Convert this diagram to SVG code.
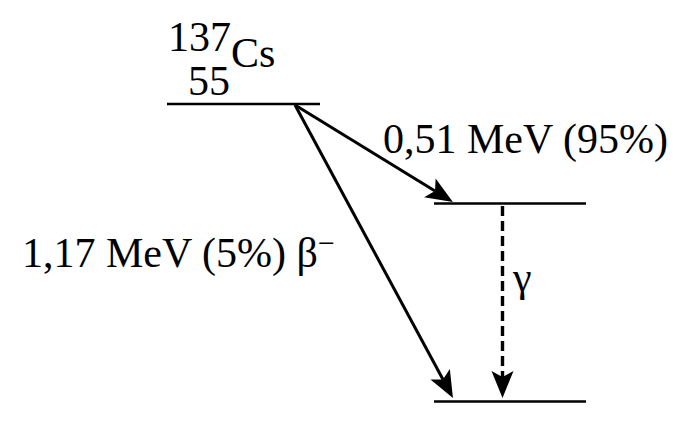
<svg xmlns="http://www.w3.org/2000/svg" width="691" height="425" viewBox="0 0 691 425">
<style>
text { font-family: "Liberation Serif", "Times New Roman", serif; fill: #000; font-size: 42px; }
.lvl { stroke: #000; stroke-width: 2.6; fill: none; }
.arr { stroke: #000; stroke-width: 3; fill: none; }
.dash { stroke-dasharray: 10 5; stroke-width: 3.4; }
</style>
<defs>
<marker id="head" markerUnits="userSpaceOnUse" markerWidth="36" markerHeight="28" viewBox="-10 -14 36 28" refX="0" refY="0" orient="auto" overflow="visible">
<path d="M21,0 L-6,-11 L0,0 L-6,11 Z" fill="#000"/>
</marker>
</defs>
<rect width="691" height="425" fill="#fff"/>
<g id="level-cs">
<line class="lvl" x1="167" y1="104" x2="320" y2="104"/>
<text x="168" y="51" font-size="38">137</text>
<text x="188" y="95" font-size="38">55</text>
<text x="231" y="67" font-size="40">Cs</text>
</g>
<g id="level-excited">
<line class="lvl" x1="434" y1="203.5" x2="586" y2="203.5"/>
</g>
<g id="level-ground">
<line class="lvl" x1="434" y1="401.5" x2="586" y2="401.5"/>
</g>
<g id="connectors">
<line class="arr" x1="295" y1="105" x2="435" y2="191" marker-end="url(#head)"/>
<line class="arr" x1="295" y1="105" x2="443" y2="379.5" marker-end="url(#head)"/>
<line class="arr dash" x1="502.5" y1="206" x2="502.5" y2="377" marker-end="url(#head)"/>
</g>
<g id="labels">
<text x="383" y="153">0,51 MeV (95%)</text>
<text x="22" y="267">1,17 MeV (5%) β<tspan font-size="30" dy="-14">−</tspan></text>
<text x="513" y="291">γ</text>
</g>
</svg>
